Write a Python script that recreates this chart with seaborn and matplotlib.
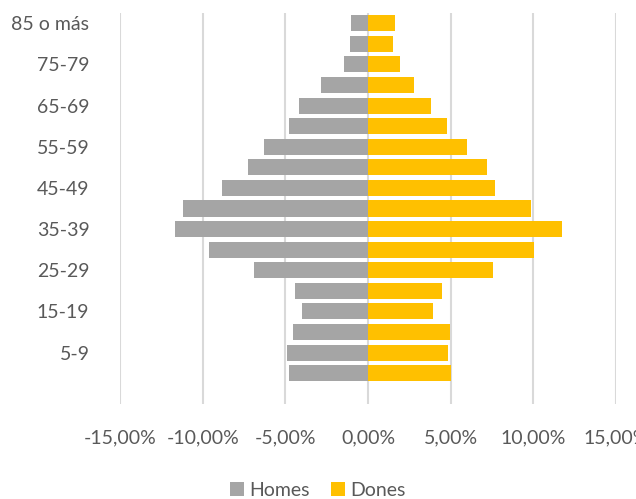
import seaborn as sns
import pandas as pd
import matplotlib.pyplot as plt
from matplotlib.ticker import FuncFormatter

# age groups, top to bottom
grups = ['85 o más', '80-84', '75-79', '70-74', '65-69', '60-64', '55-59', '50-54',
         '45-49', '40-44', '35-39', '30-34', '25-29', '20-24', '15-19', '10-14',
         '5-9', '0-4']
# percentages (men plotted negative)
homes = [-1.0, -1.07, -1.47, -2.85, -4.18, -4.80, -6.31, -7.26, -8.82, -11.2,
         -11.66, -9.61, -6.90, -4.42, -4.0, -4.52, -4.90, -4.80]
dones = [1.65, 1.53, 1.92, 2.76, 3.83, 4.76, 5.99, 7.20, 7.67, 9.83,
         11.72, 10.07, 7.57, 4.50, 3.95, 4.96, 4.86, 5.04]
ticks_x = [-15, -10, -5, 0, 5, 10, 15]

sns.set_theme(style="white")
plt.rcParams['font.family'] = ['Lato', 'DejaVu Sans']
txt = '#595959'

df = pd.DataFrame({'grup': grups * 2,
                   'valor': homes + dones,
                   'sexe': ['Homes'] * len(grups) + ['Dones'] * len(grups)})

fig = plt.figure(figsize=(6.36, 4.99), dpi=100)
ax = fig.add_axes([120 / 636, 1 - 404 / 499, 496 / 636, 391 / 499])

sns.barplot(data=df, y='grup', x='valor', hue='sexe', order=grups,
            palette={'Homes': '#a5a5a5', 'Dones': '#ffc000'}, saturation=1,
            dodge=False, width=0.78, orient='h', linewidth=0, ax=ax, zorder=3)

ax.set_xlim(-15, 15)
ax.set_ylim(18.5, -0.5)
ax.set_xticks(ticks_x)
ax.xaxis.set_major_formatter(FuncFormatter(lambda v, p: f'{v:.2f}%'.replace('.', ',')))
ax.set_yticks(range(0, 19, 2))
ax.set_yticklabels([grups[i] if i < len(grups) else '' for i in range(0, 19, 2)])
ax.grid(axis='x', color='#d9d9d9', linewidth=1.5, zorder=0)
ax.grid(axis='y', visible=False)
for s in ax.spines.values():
    s.set_visible(False)
ax.tick_params(axis='both', length=0, labelsize=14, labelcolor=txt)
ax.tick_params(axis='x', pad=18)
ax.tick_params(axis='y', pad=22)
ax.set_xlabel('')
ax.set_ylabel('')

h, l = ax.get_legend_handles_labels()
ax.get_legend().remove()
fig.legend(h, l, loc='center', bbox_to_anchor=(318 / 636, 1 - 490 / 499), ncol=2,
           frameon=False, fontsize=14, labelcolor=txt, handlelength=0.7,
           handleheight=0.7, handletextpad=0.3, columnspacing=1.1)

fig.savefig('out.png', dpi=100)
